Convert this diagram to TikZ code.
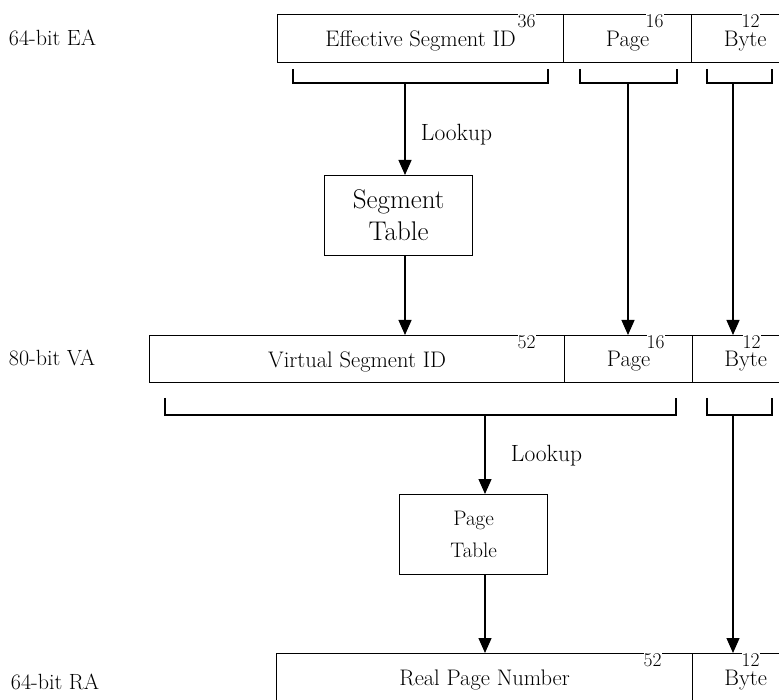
\documentclass[tikz,border=0pt]{standalone}
\usetikzlibrary{arrows.meta}
\begin{document}
\begin{tikzpicture}[x=1pt,y=-1pt,line width=1.3pt,
  field/.style={draw, anchor=north west, inner sep=0pt, text depth=0pt, font=\fontsize{22.5}{26}\selectfont},
  num/.style={anchor=north west, fill=white, inner xsep=0pt, inner ysep=2pt, font=\fontsize{19.5}{20}\selectfont},
  tablebox/.style={draw, anchor=north west, inner sep=0pt, align=center},
  lbl/.style={anchor=base west, font=\fontsize{22}{26}\selectfont},
  lookup/.style={anchor=base west, font=\fontsize{23.5}{26}\selectfont},
  arr/.style={-{Triangle[length=15pt,width=13pt]}}]
\useasboundingbox (0,0) rectangle (779,700);
\clip (0,0) rectangle (779,700);

% ---- 64-bit effective address
\node[lbl] (ea) at (5,46) {64-bit EA};
\node[field, minimum width=286pt, minimum height=48pt] (esid) at (277,14) {Effective Segment ID};
\node[field, minimum width=128pt, minimum height=48pt] (epage) at (563,14) {Page};
\node[field, minimum width=107pt, minimum height=48pt] (ebyte) at (691,14) {Byte};
\node[num] (n36) at (517,12) {36\hspace{10pt}};
\node[num] (n16a) at (645,12) {16\hspace{12pt}};
\node[num] (n12a) at (741,12) {12\hspace{11pt}};

% brackets under the EA fields
\draw (293,69) -- (293,83) -- (548,83) -- (548,69);
\draw (580,69) -- (580,83) -- (677,83) -- (677,69);
\draw (707,69) -- (707,83) -- (772,83) -- (772,69);
\coordinate (s1) at (405,83);
\coordinate (s2) at (628,83);
\coordinate (s3) at (733,83);

% segment table lookup
\node[tablebox, minimum width=148pt, minimum height=80pt, font=\fontsize{27}{32}\selectfont] (segtab) at (324,175) {Segment\\Table};
\node[lookup] (lk1) at (417,141) {Lookup};

% ---- 80-bit virtual address
\node[lbl] (va) at (5,366) {80-bit VA};
\node[field, minimum width=415pt, minimum height=47pt] (vsid) at (149,335) {Virtual Segment ID};
\node[field, minimum width=128pt, minimum height=47pt] (vpage) at (564,335) {Page};
\node[field, minimum width=106pt, minimum height=47pt] (vbyte) at (692,335) {Byte};
\node[num] (n52a) at (517,333) {52\hspace{11pt}};
\node[num] (n16b) at (646,333) {16\hspace{12pt}};
\node[num] (n12b) at (742,333) {12\hspace{11pt}};

\draw[arr] (s1) -- (s1 |- segtab.north);
\draw[arr] (segtab.south -| s1) -- (s1 |- vsid.north);
\draw[arr] (s2) -- (s2 |- vpage.north);
\draw[arr] (s3) -- (s3 |- vbyte.north);

% brackets under the VA fields
\draw (165,398) -- (165,415) -- (676,415) -- (676,398);
\draw (707,398) -- (707,415) -- (772,415) -- (772,398);
\coordinate (s4) at (485,415);
\coordinate (s5) at (733,415);

% page table lookup
\node[tablebox, minimum width=148pt, minimum height=80pt, font=\fontsize{21}{32}\selectfont] (ptab) at (399,494) {Page\\Table};
\node[lookup] (lk2) at (507,461) {Lookup};

% ---- 64-bit real address
\node[lbl] (ra) at (7,689) {64-bit RA};
\node[field, minimum width=416pt, minimum height=48pt] (rpn) at (276,653) {Real Page Number};
\node[field, minimum width=106pt, minimum height=48pt] (rbyte) at (692,653) {Byte};
\node[num] (n52b) at (643,651) {52\hspace{12pt}};
\node[num] (n12c) at (741,651) {12\hspace{11pt}};

\draw[arr] (s4) -- (s4 |- ptab.north);
\draw[arr] (ptab.south -| s4) -- (s4 |- rpn.north);
\draw[arr] (s5) -- (s5 |- rbyte.north);
\end{tikzpicture}
\end{document}
